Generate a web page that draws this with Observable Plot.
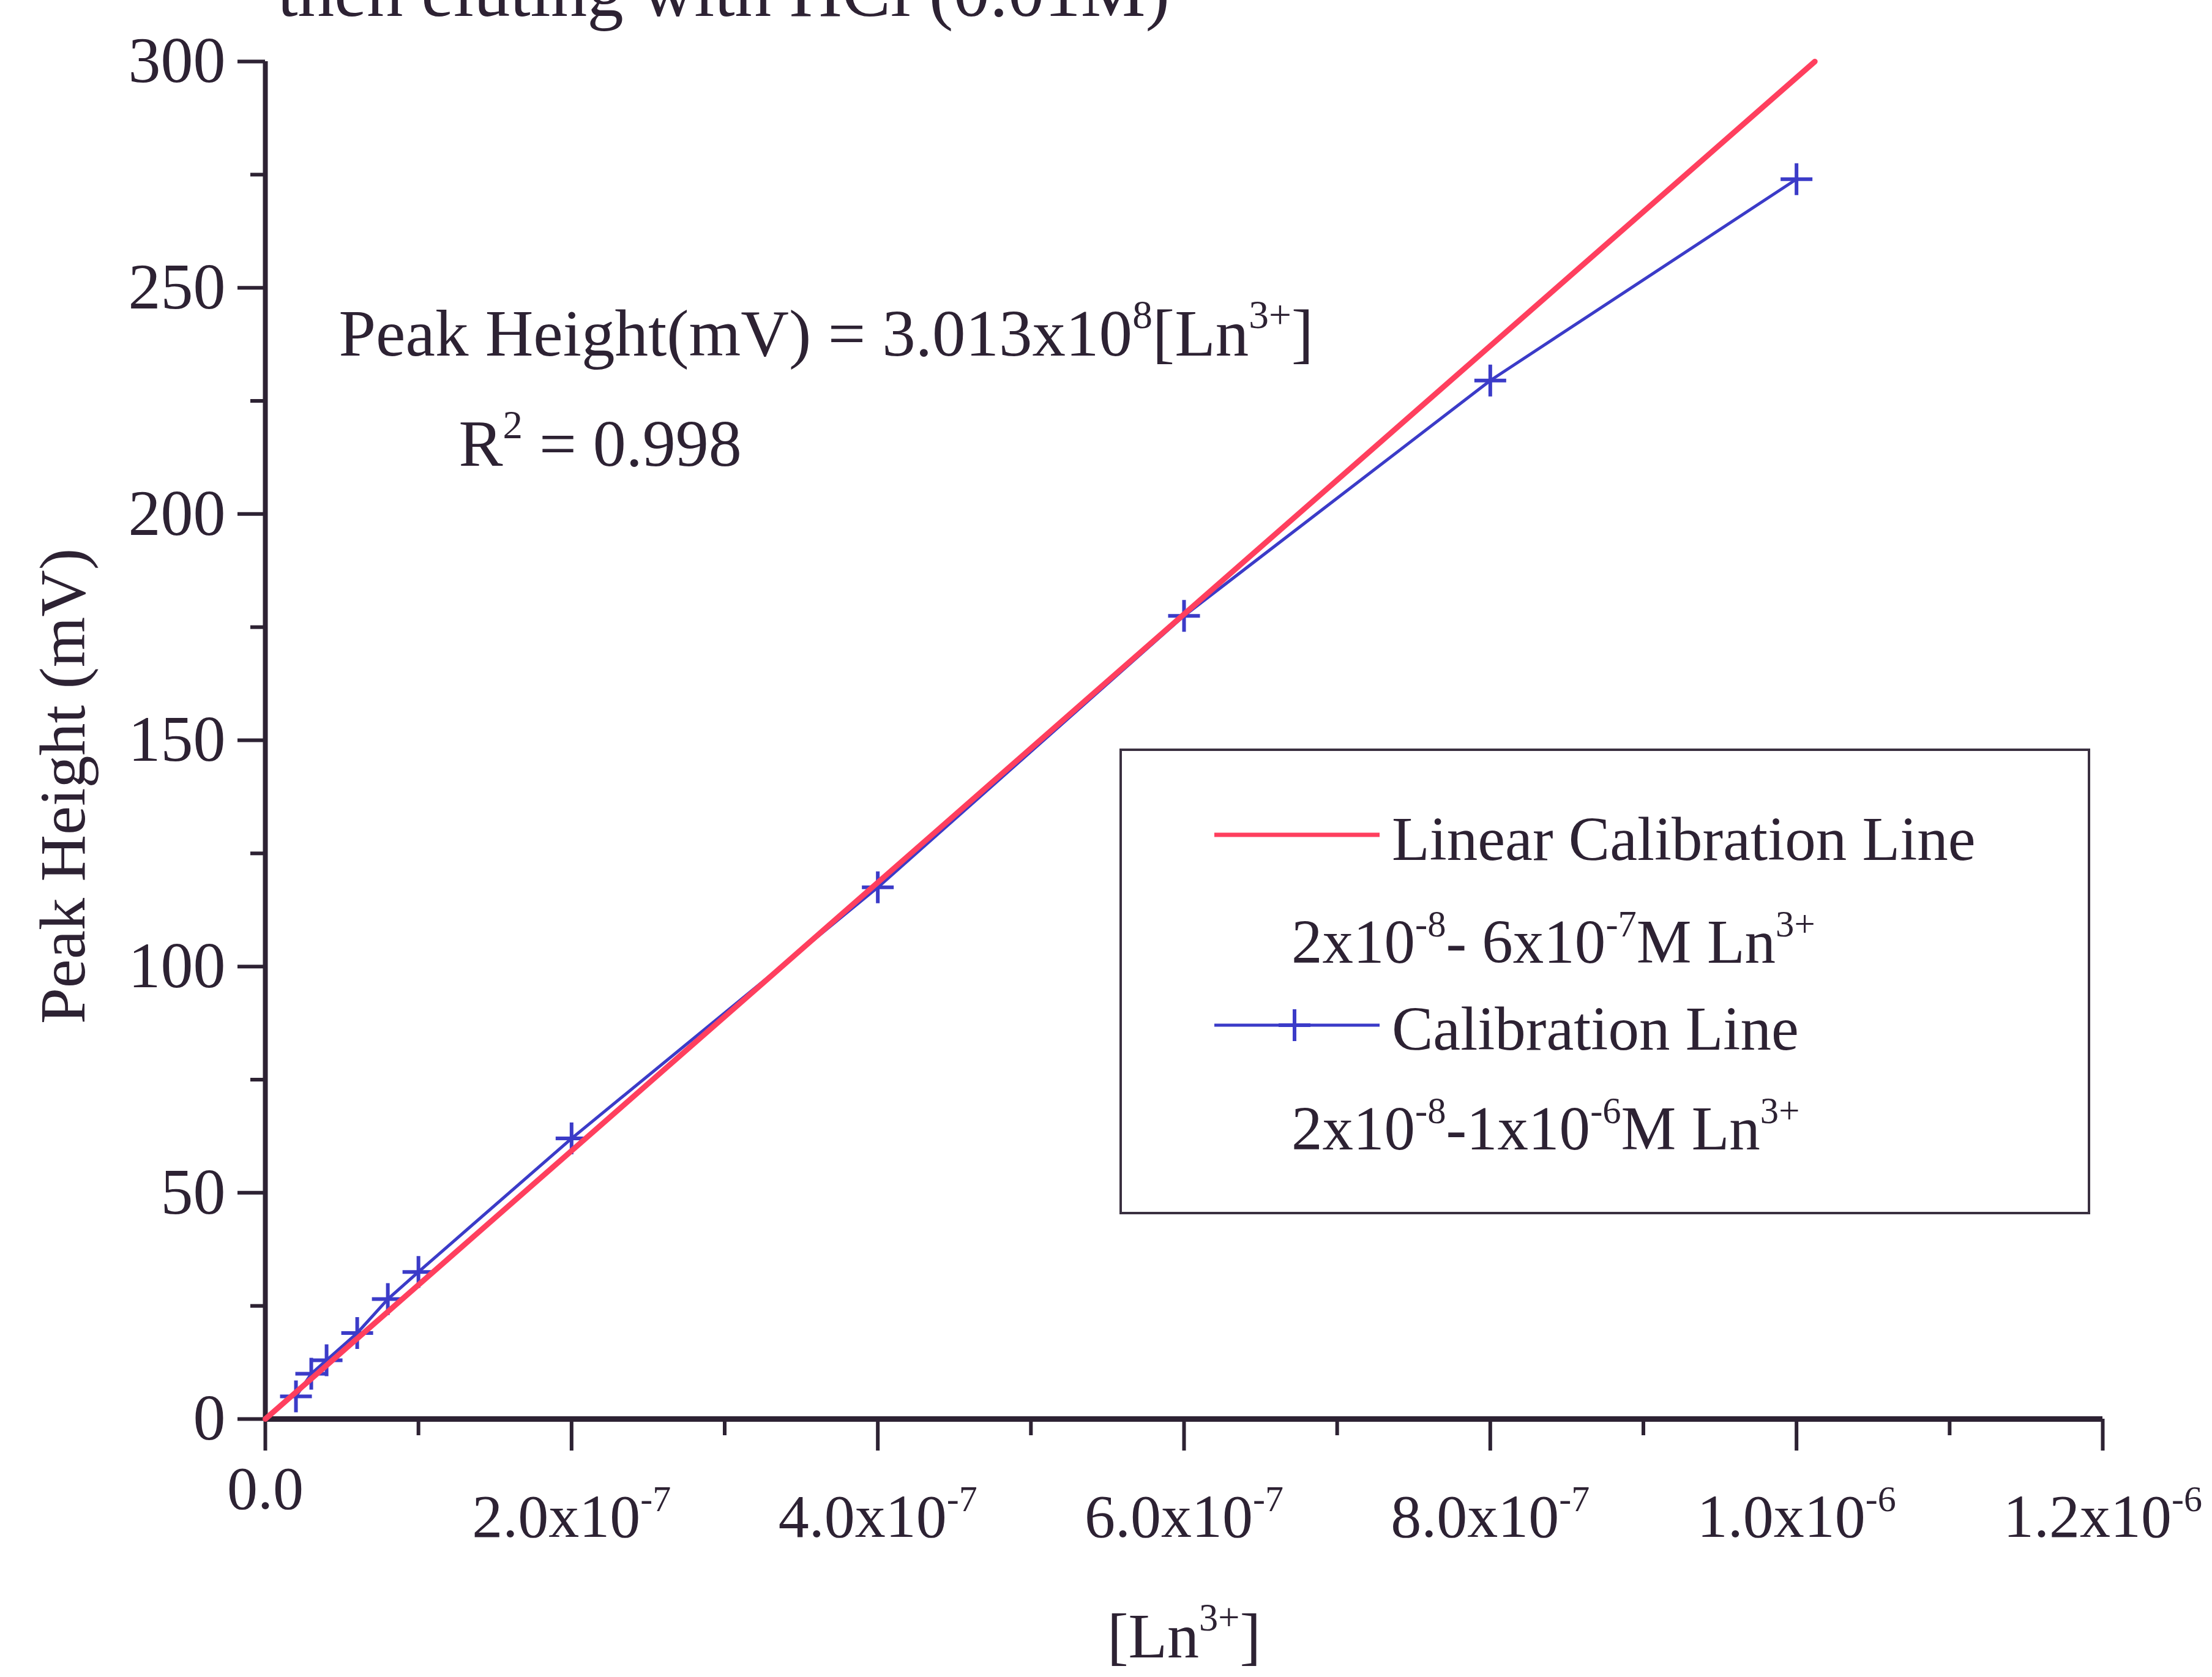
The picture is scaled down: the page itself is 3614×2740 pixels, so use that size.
<!DOCTYPE html>
<html><head><meta charset="utf-8">
<script src="https://cdn.jsdelivr.net/npm/d3@7"></script>
<script src="https://cdn.jsdelivr.net/npm/@observablehq/plot@0.6"></script>
<style>
html,body{margin:0;padding:0;background:#fff;}
#wrap{position:relative;width:3614px;height:2740px;overflow:hidden;font-family:"Liberation Serif","Times New Roman",serif;color:#2d2233;}
#wrap svg{position:absolute;left:0;top:0;}
.lg{position:absolute;white-space:nowrap;line-height:1;font-size:101px;}
.lg sup{font-size:0.6em;vertical-align:0;position:relative;top:-0.72em;}
#legendBox{position:absolute;box-sizing:border-box;border:4px solid #3a3040;}
</style></head>
<body><div id="wrap"></div>
<script>
// ---- data ----
const conc = [2e-8, 3e-8, 4e-8, 6e-8, 8e-8, 1e-7, 2e-7, 4e-7, 6e-7, 8e-7, 1e-6];
const peak = [5, 10, 13, 19, 26.5, 32.5, 62, 117.5, 177.5, 229.5, 274];
const fitConc = [0, 1.012e-6];
const fitPeak = [0, 300];
const xTicks = [0, 2e-7, 4e-7, 6e-7, 8e-7, 1e-6, 1.2e-6];
const xTickLabels = ["0.0", "2.0x10^{-7}", "4.0x10^{-7}", "6.0x10^{-7}", "8.0x10^{-7}", "1.0x10^{-6}", "1.2x10^{-6}"];
const xMinorTicks = [1e-7, 3e-7, 5e-7, 7e-7, 9e-7, 1.1e-6];
const yTicks = [0, 50, 100, 150, 200, 250, 300];
const yMinorTicks = [25, 75, 125, 175, 225, 275];
const titleText = "then eluting with HCl (0.01M)";
const yLabel = "Peak Height (mV)";
const xLabel = "[Ln^{3+}]";
const eqText = "Peak Height(mV) = 3.013x10^{8}[Ln^{3+}]";
const r2Text = "R^{2} = 0.998";
const legendNames = ["Linear Calibration Line", "Calibration Line"];
const legendRanges = ["2x10<sup>-8</sup>- 6x10<sup>-7</sup>M Ln<sup>3+</sup>", "2x10<sup>-8</sup>-1x10<sup>-6</sup>M Ln<sup>3+</sup>"];

const dark = "#2d2233";
const red = "#ff3f5e";
const blue = "#3b3bc8";

const points = conc.map((c, i) => ({c, p: peak[i]}));
const fit = fitConc.map((c, i) => ({c, p: fitPeak[i]}));

const plusSymbol = {draw(ctx, size) {const r = Math.sqrt(size / Math.PI); ctx.moveTo(-r, 0); ctx.lineTo(r, 0); ctx.moveTo(0, -r); ctx.lineTo(0, r);}};

const chart = Plot.plot({
  width: 3614, height: 2740,
  marginLeft: 433, marginRight: 179, marginTop: 100, marginBottom: 422,
  style: {fontFamily: '"Liberation Serif", "Times New Roman", serif', fontSize: "100px", background: "transparent", color: dark, overflow: "visible"},
  x: {domain: [0, 1.2e-6], axis: null},
  y: {domain: [0, 300], axis: null},
  marks: [
    Plot.axisY({ticks: yMinorTicks, tickSize: 24, fill: "none", stroke: dark, strokeWidth: 6, label: null}),
    Plot.axisY({ticks: yTicks, tickSize: 45, tickPadding: 20, tickFormat: d => String(d), stroke: dark, strokeWidth: 6, fill: dark, fontSize: 106, label: null}),
    Plot.axisX({ticks: xMinorTicks, tickSize: 27, fill: "none", stroke: dark, strokeWidth: 6, label: null}),
    Plot.axisX({ticks: xTicks, tickSize: 52, fill: "none", stroke: dark, strokeWidth: 6, label: null}),
    Plot.ruleX([0], {stroke: dark, strokeWidth: 8}),
    Plot.ruleY([0], {stroke: dark, strokeWidth: 9}),
    Plot.text(xTicks.slice(1), {x: d => d, text: (d, i) => xTickLabels[i + 1], frameAnchor: "bottom", lineAnchor: "middle", textAnchor: "middle", dy: 160, fontSize: 100, fill: dark}),
    Plot.text(xTicks.slice(0, 1), {x: d => d, text: (d, i) => xTickLabels[i], frameAnchor: "bottom", lineAnchor: "middle", textAnchor: "middle", dy: 114, fontSize: 100, fill: dark}),
    Plot.line(points, {x: "c", y: "p", stroke: blue, strokeWidth: 5}),
    Plot.dot(points, {x: "c", y: "p", symbol: plusSymbol, r: 26, stroke: blue, strokeWidth: 6, fill: "none"}),
    Plot.line(fit, {x: "c", y: "p", stroke: red, strokeWidth: 9}),
    Plot.text([yLabel], {text: d => d, frameAnchor: "left", lineAnchor: "middle", textAnchor: "middle", rotate: -90, dx: -329, dy: 75, fontSize: 106, fill: dark}),
    Plot.text([xLabel], {text: d => d, frameAnchor: "bottom", lineAnchor: "middle", textAnchor: "middle", dy: 356, fontSize: 104, fill: dark}),
    Plot.text([titleText], {text: d => d, frameAnchor: "top-left", lineAnchor: "middle", textAnchor: "start", dx: 20, dy: -113, fontSize: 119, fill: dark}),
    Plot.text([eqText], {text: d => d, frameAnchor: "top-left", lineAnchor: "middle", textAnchor: "start", dx: 120, dy: 446, fontSize: 109, fill: dark}),
    Plot.text([r2Text], {text: d => d, frameAnchor: "top-left", lineAnchor: "middle", textAnchor: "start", dx: 316, dy: 626, fontSize: 108, fill: dark})
  ]
});

const wrap = document.getElementById("wrap");
wrap.appendChild(chart);

// convert ^{...} to superscript tspans
const NS = "http://www.w3.org/2000/svg";
chart.querySelectorAll("text").forEach(t => {
  const s = t.textContent;
  if (!s.includes("^{")) return;
  const fs = parseFloat(getComputedStyle(t).fontSize) || 100;
  const rise = 0.42 * fs;
  t.textContent = "";
  let raised = false;
  const add = (str, sup) => {
    const ts = document.createElementNS(NS, "tspan");
    ts.textContent = str;
    if (sup) { ts.setAttribute("font-size", (0.6 * fs).toFixed(1)); if (!raised) ts.setAttribute("dy", -rise); raised = true; }
    else if (raised) { ts.setAttribute("dy", rise); raised = false; }
    t.appendChild(ts);
  };
  const re = /\^\{([^}]*)\}/g; let last = 0, m;
  while ((m = re.exec(s))) {
    if (m.index > last) add(s.slice(last, m.index), false);
    add(m[1], true);
    last = re.lastIndex;
  }
  if (last < s.length) add(s.slice(last), false);
});

// legend (inside plot area)
const box = document.createElement("div");
box.id = "legendBox";
Object.assign(box.style, {left: "1829px", top: "1223px", width: "1586px", height: "761px"});
wrap.appendChild(box);

function legendText(html, left, baseline) {
  const d = document.createElement("div");
  d.className = "lg";
  d.innerHTML = html;
  d.style.left = left + "px";
  d.style.top = (baseline - 0.8375 * 101) + "px";
  wrap.appendChild(d);
}
function legendSample(color, y, withPlus, sw) {
  const s = document.createElementNS(NS, "svg");
  s.setAttribute("width", 300); s.setAttribute("height", 80);
  s.style.left = "1970px"; s.style.top = (y - 40) + "px";
  const g = d3.select(s);
  g.append("line").attr("x1", 14).attr("x2", 284).attr("y1", 40).attr("y2", 40).attr("stroke", color).attr("stroke-width", sw);
  if (withPlus) {
    g.append("path").attr("d", "M119,40H171M145,14V66").attr("stroke", color).attr("stroke-width", 6).attr("fill", "none");
  }
  wrap.appendChild(s);
}
legendSample(red, 1364, false, 7);
legendSample(blue, 1675, true, 5);
legendText(legendNames[0], 2274, 1406);
legendText(legendRanges[0], 2110, 1574);
legendText(legendNames[1], 2274, 1716);
legendText(legendRanges[1], 2110, 1879);
</script>
</body></html>
